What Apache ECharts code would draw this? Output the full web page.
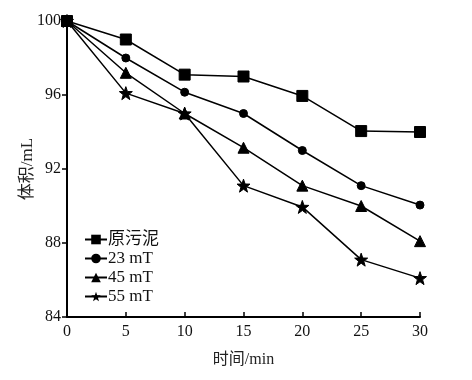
<!DOCTYPE html>
<html><head><meta charset="utf-8">
<script src="https://cdn.jsdelivr.net/npm/echarts@6/dist/echarts.min.js"></script>
<style>html,body{margin:0;padding:0;background:#fff}#c{width:472px;height:380px}</style>
</head><body><div id="c"></div>
<script>
var times = [0, 5, 10, 15, 20, 25, 30];
var seriesNames = ['原污泥', '23 mT', '45 mT', '55 mT'];
var rawSludge = [100, 99.0, 97.1, 97.0, 95.95, 94.05, 94.0];
var mT23 = [100, 98.0, 96.15, 95.0, 93.0, 91.1, 90.05];
var mT45 = [100, 97.2, 95.0, 93.15, 91.1, 90.0, 88.1];
var mT55 = [100, 96.1, 95.0, 91.1, 89.95, 87.1, 86.1];
var yTicks = [84, 88, 92, 96, 100];
var xTicks = [0, 5, 10, 15, 20, 25, 30];

var star = 'path://M50 0 L61.76 33.82 L97.55 34.55 L69.02 56.18 L79.39 90.45 L50 70 L20.61 90.45 L30.98 56.18 L2.45 34.55 L38.24 33.82 Z';
var symbols = ['rect', 'circle', 'triangle', star];
var sizes = [11, 8, 11, 13];
var values = [rawSludge, mT23, mT45, mT55];
var serif = '"Liberation Serif","DejaVu Serif","Noto Sans CJK SC",serif';

function pairs(v){ return times.map(function(t,i){ return [t, v[i]]; }); }

var chart = echarts.init(document.getElementById('c'));
chart.setOption({
  animation: false,
  backgroundColor: '#fff',
  grid: {left: 67, right: 52, top: 21, bottom: 63},
  legend: {
    orient: 'vertical', left: 79, top: 226, itemGap: 2,
    itemWidth: 22, itemHeight: 12,
    data: seriesNames,
    textStyle: {fontFamily: serif, fontSize: 17, color: '#111', padding: [0,0,0,-4]}
  },
  xAxis: {
    type: 'value', min: xTicks[0], max: xTicks[xTicks.length-1], interval: 5,
    name: '时间/min', nameLocation: 'middle', nameGap: 35, nameMoveOverlap: false,
    nameTextStyle: {fontFamily: serif, fontSize: 16, color: '#222'},
    axisLine: {lineStyle: {color: '#000', width: 2}},
    axisTick: {inside: true, length: 5, lineStyle: {color: '#000', width: 1.5}},
    axisLabel: {fontFamily: serif, fontSize: 16, color: '#111', margin: 7},
    splitLine: {show: false}
  },
  yAxis: {
    type: 'value', min: yTicks[0], max: yTicks[yTicks.length-1], interval: 4,
    name: '体积/mL', nameLocation: 'middle', nameGap: 31, nameRotate: 90, nameMoveOverlap: false,
    nameTextStyle: {fontFamily: serif, fontSize: 17, color: '#222'},
    axisLine: {show: true, lineStyle: {color: '#000', width: 2}},
    axisTick: {show: true, inside: false, length: 5, lineStyle: {color: '#000', width: 1.5}},
    axisLabel: {fontFamily: serif, fontSize: 16, color: '#111', margin: 6},
    splitLine: {show: false}
  },
  series: seriesNames.map(function(n, i){
    return {
      name: n, type: 'line', data: pairs(values[i]),
      symbol: symbols[i], symbolSize: sizes[i],
      showAllSymbol: true,
      lineStyle: {color: '#000', width: 1.5},
      itemStyle: {color: '#000', borderColor: '#000'},
      emphasis: {disabled: true}
    };
  })
});
</script></body></html>
